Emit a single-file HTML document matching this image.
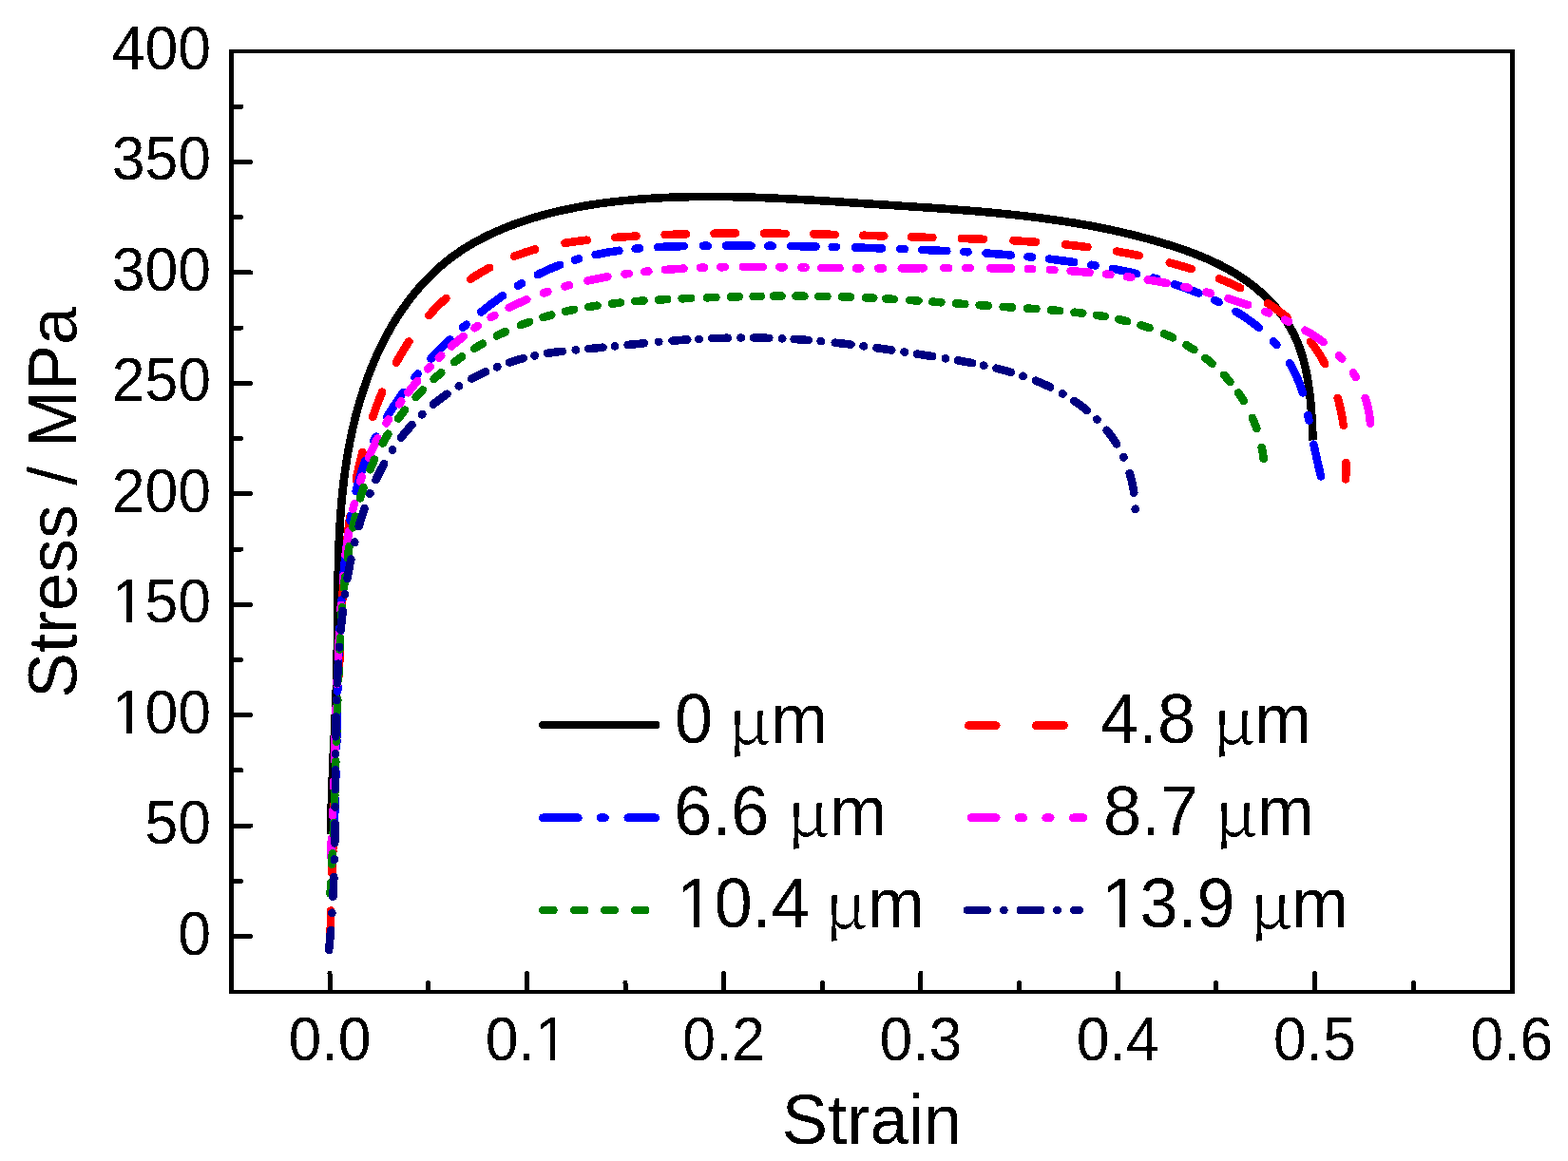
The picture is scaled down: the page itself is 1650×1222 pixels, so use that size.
<!DOCTYPE html><html><head><meta charset="utf-8"><title>Stress-strain curves</title><style>html,body{margin:0;padding:0;background:#fff;}svg{display:block;}text{font-family:"Liberation Sans",Arial,sans-serif;fill:#000;}.mu{font-family:"Noto Serif CJK SC","Liberation Serif",serif;}</style></head><body>
<svg width="1650" height="1222" viewBox="0 0 1650 1222" shape-rendering="crispEdges">
<defs><filter id="bin" x="0" y="0" width="1650" height="1222" filterUnits="userSpaceOnUse" color-interpolation-filters="sRGB"><feComponentTransfer><feFuncA type="discrete" tableValues="0 1"/></feComponentTransfer></filter></defs>
<rect width="1650" height="1222" fill="#fff"/>
<path d="M348.2,878.1L348.3,876.1 348.3,874.0 348.3,872.0 348.3,870.0 348.3,868.0 348.4,866.0 348.4,864.0 348.4,862.0 348.5,860.0 348.5,857.9 348.5,855.9 348.6,853.9 348.6,851.9 348.7,849.9 348.7,847.9 348.8,845.9 348.8,843.9 348.9,841.9 349.0,839.9 349.0,837.9 349.1,835.9 349.2,833.9 349.2,831.9 349.3,829.9 349.4,827.9 349.4,825.9 349.5,823.9 349.6,821.8 349.7,819.8 349.8,817.8 349.8,815.8 349.9,813.8 350.0,811.8 350.1,809.8 350.2,807.8 350.3,805.8 350.4,803.8 350.5,801.8 350.5,799.8 350.6,797.8 350.7,795.8 350.8,793.8 350.9,791.9 351.0,789.9 351.1,787.9 351.2,785.9 351.3,783.9 351.4,781.9 351.5,779.9 351.6,777.9 351.7,775.9 351.8,773.9 351.9,771.9 352.0,769.9 352.1,767.9 352.1,765.9 352.2,763.9 352.3,761.9 352.4,759.9 352.5,757.9 352.6,755.9 352.7,753.9 352.8,751.9 352.9,749.9 353.0,747.9 353.0,745.9 353.1,743.9 353.2,741.9 353.3,739.9 353.4,737.9 353.4,735.9 353.5,733.9 353.6,731.9 353.7,729.9 353.7,727.9 353.8,725.9 353.9,723.9 353.9,721.9 354.0,719.9 354.1,717.9 354.1,715.9 354.2,713.9 354.2,711.9 354.3,709.9 354.3,707.9 354.4,705.9 354.4,703.9 354.5,701.9 354.5,699.9 354.6,697.8 354.6,695.8 354.6,693.8 354.7,691.8 354.7,689.8 354.7,687.8 354.7,685.8 354.8,683.8 354.8,681.8 354.8,679.8 354.9,677.8 354.9,675.8 354.9,673.8 354.9,671.7 354.9,669.7 355.0,667.7 355.0,665.7 355.0,663.7 355.0,661.7 355.0,659.7 355.0,657.7 355.1,655.7 355.1,653.7 355.1,651.6 355.1,649.6 355.1,647.6 355.2,645.6 355.2,643.6 355.2,641.6 355.2,639.6 355.2,637.6 355.2,635.6 355.3,633.5 355.3,631.5 355.3,629.5 355.3,627.5 355.4,625.5 355.4,623.5 355.4,621.5 355.4,619.5 355.5,617.5 355.5,615.5 355.5,613.4 355.6,611.4 355.6,609.4 355.6,607.4 355.7,605.4 355.7,603.4 355.8,601.4 355.8,599.4 355.8,597.4 355.9,595.4 355.9,593.4 356.0,591.4 356.1,589.3 356.1,587.3 356.2,585.3 356.2,583.3 356.3,581.3 356.4,579.3 356.5,577.3 356.5,575.3 356.6,573.3 356.7,571.3 356.8,569.3 356.9,567.3 357.0,565.3 357.1,563.3 357.2,561.3 357.3,559.3 357.4,557.3 357.5,555.3 357.6,553.3 357.7,551.3 357.9,549.3 358.0,547.3 358.1,545.3 358.3,543.3 358.4,541.3 358.6,539.3 358.7,537.3 358.9,535.3 359.0,533.3 359.2,531.4 359.4,529.4 359.5,527.4 359.7,525.4 359.9,523.4 360.1,521.4 360.3,519.4 360.5,517.4 360.7,515.4 360.9,513.5 361.2,511.5 361.4,509.5 361.6,507.5 361.8,505.5 362.1,503.5 362.3,501.6 362.6,499.6 362.9,497.6 363.1,495.6 363.4,493.7 363.7,491.7 364.0,489.7 364.3,487.7 364.6,485.8 364.9,483.8 365.2,481.8 365.5,479.8 365.9,477.9 366.2,475.9 366.6,473.9 366.9,472.0 367.3,470.0 367.6,468.0 368.0,466.1 368.4,464.1 368.8,462.2 369.2,460.2 369.6,458.2 370.0,456.3 370.4,454.3 370.9,452.4 371.3,450.4 371.8,448.5 372.2,446.5 372.7,444.6 373.2,442.6 373.6,440.7 374.1,438.7 374.6,436.8 375.1,434.8 375.7,432.9 376.2,430.9 376.7,429.0 377.3,427.1 377.8,425.1 378.4,423.2 379.0,421.2 379.6,419.3 380.2,417.4 380.8,415.5 381.4,413.5 382.0,411.6 382.6,409.7 383.3,407.8 383.9,405.9 384.6,404.0 385.3,402.0 385.9,400.1 386.6,398.2 387.3,396.3 388.0,394.5 388.8,392.6 389.5,390.7 390.2,388.8 391.0,386.9 391.7,385.1 392.5,383.2 393.3,381.3 394.1,379.5 394.9,377.6 395.7,375.8 396.5,373.9 397.4,372.1 398.2,370.3 399.0,368.4 399.9,366.6 400.8,364.8 401.7,363.0 402.6,361.2 403.5,359.4 404.4,357.6 405.3,355.8 406.3,354.1 407.2,352.3 408.2,350.5 409.1,348.8 410.1,347.0 411.1,345.3 412.1,343.6 413.1,341.8 414.1,340.1 415.2,338.4 416.2,336.7 417.3,335.0 418.4,333.3 419.4,331.7 420.5,330.0 421.6,328.3 422.7,326.7 423.9,325.0 425.0,323.4 426.2,321.8 427.3,320.2 428.5,318.6 429.7,317.0 430.9,315.4 432.1,313.8 433.3,312.3 434.5,310.7 435.8,309.2 437.0,307.6 438.3,306.1 439.6,304.6 440.8,303.1 442.1,301.6 443.5,300.1 444.8,298.7 446.1,297.2 447.5,295.8 448.8,294.3 450.2,292.9 451.6,291.5 453.0,290.1 454.4,288.7 455.8,287.4 457.3,286.0 458.7,284.7 460.2,283.3 461.6,282.0 463.1,280.7 464.6,279.4 466.1,278.1 467.6,276.8 469.2,275.6 470.7,274.4 472.3,273.1 473.9,271.9 475.4,270.7 477.0,269.5 478.7,268.4 480.3,267.2 481.9,266.1 483.6,264.9 485.2,263.8 486.9,262.7 488.6,261.6 490.3,260.6 492.0,259.5 493.7,258.5 495.4,257.4 497.2,256.4 498.9,255.4 500.7,254.4 502.5,253.5 504.3,252.5 506.0,251.6 507.8,250.6 509.7,249.7 511.5,248.8 513.3,247.9 515.1,247.0 517.0,246.2 518.8,245.3 520.7,244.5 522.5,243.6 524.4,242.8 526.3,242.0 528.1,241.2 530.0,240.4 531.9,239.7 533.8,238.9 535.7,238.2 537.6,237.4 539.5,236.7 541.4,236.0 543.4,235.3 545.3,234.6 547.2,234.0 549.1,233.3 551.1,232.6 553.0,232.0 554.9,231.4 556.9,230.7 558.8,230.1 560.7,229.5 562.7,228.9 564.6,228.4 566.5,227.8 568.5,227.2 570.4,226.7 572.4,226.2 574.3,225.6 576.3,225.1 578.2,224.6 580.2,224.1 582.1,223.6 584.1,223.2 586.0,222.7 588.0,222.2 589.9,221.8 591.9,221.3 593.8,220.9 595.8,220.5 597.8,220.1 599.7,219.7 601.7,219.3 603.6,218.9 605.6,218.5 607.6,218.1 609.5,217.8 611.5,217.4 613.5,217.0 615.4,216.7 617.4,216.4 619.4,216.0 621.3,215.7 623.3,215.4 625.3,215.1 627.3,214.8 629.2,214.5 631.2,214.2 633.2,214.0 635.1,213.7 637.1,213.4 639.1,213.2 641.1,212.9 643.1,212.7 645.0,212.4 647.0,212.2 649.0,212.0 651.0,211.8 653.0,211.6 654.9,211.3 656.9,211.1 658.9,210.9 660.9,210.8 662.9,210.6 664.8,210.4 666.8,210.2 668.8,210.0 670.8,209.9 672.8,209.7 674.8,209.6 676.8,209.4 678.7,209.3 680.7,209.1 682.7,209.0 684.7,208.9 686.7,208.7 688.7,208.6 690.7,208.5 692.7,208.4 694.7,208.3 696.7,208.2 698.6,208.1 700.6,208.0 702.6,207.9 704.6,207.8 706.6,207.7 708.6,207.6 710.6,207.6 712.6,207.5 714.6,207.4 716.6,207.4 718.6,207.3 720.6,207.3 722.6,207.2 724.6,207.2 726.6,207.1 728.6,207.1 730.6,207.1 732.6,207.0 734.6,207.0 736.6,207.0 738.6,207.0 740.6,207.0 742.6,207.0 744.6,207.0 746.6,207.0 748.6,207.0 750.6,207.0 752.6,207.0 754.6,207.0 756.6,207.0 758.6,207.0 760.6,207.0 762.6,207.1 764.6,207.1 766.6,207.1 768.6,207.1 770.6,207.2 772.6,207.2 774.6,207.3 776.6,207.3 778.6,207.3 780.6,207.4 782.6,207.4 784.6,207.5 786.6,207.6 788.6,207.6 790.7,207.7 792.7,207.7 794.7,207.8 796.7,207.9 798.7,208.0 800.7,208.0 802.7,208.1 804.7,208.2 806.7,208.3 808.7,208.3 810.7,208.4 812.7,208.5 814.7,208.6 816.7,208.7 818.8,208.8 820.8,208.9 822.8,209.0 824.8,209.1 826.8,209.2 828.8,209.3 830.8,209.4 832.8,209.5 834.8,209.6 836.8,209.7 838.8,209.8 840.8,209.9 842.8,210.0 844.9,210.1 846.9,210.3 848.9,210.4 850.9,210.5 852.9,210.6 854.9,210.7 856.9,210.8 858.9,211.0 860.9,211.1 862.9,211.2 864.9,211.3 866.9,211.5 869.0,211.6 871.0,211.7 873.0,211.8 875.0,212.0 877.0,212.1 879.0,212.2 881.0,212.3 883.0,212.5 885.0,212.6 887.0,212.7 889.0,212.9 891.0,213.0 893.1,213.1 895.1,213.3 897.1,213.4 899.1,213.5 901.1,213.7 903.1,213.8 905.1,213.9 907.1,214.1 909.1,214.2 911.1,214.3 913.1,214.4 915.1,214.6 917.1,214.7 919.1,214.8 921.1,215.0 923.1,215.1 925.1,215.2 927.2,215.4 929.2,215.5 931.2,215.6 933.2,215.7 935.2,215.9 937.2,216.0 939.2,216.1 941.2,216.2 943.2,216.4 945.2,216.5 947.2,216.6 949.2,216.8 951.2,216.9 953.2,217.0 955.2,217.1 957.2,217.3 959.2,217.4 961.2,217.5 963.2,217.7 965.2,217.8 967.2,217.9 969.2,218.1 971.2,218.2 973.2,218.3 975.2,218.4 977.2,218.6 979.2,218.7 981.2,218.9 983.2,219.0 985.2,219.1 987.2,219.3 989.2,219.4 991.2,219.5 993.2,219.7 995.2,219.8 997.2,220.0 999.2,220.1 1001.1,220.3 1003.1,220.4 1005.1,220.6 1007.1,220.7 1009.1,220.9 1011.1,221.0 1013.1,221.2 1015.1,221.3 1017.1,221.5 1019.1,221.6 1021.1,221.8 1023.1,222.0 1025.1,222.1 1027.1,222.3 1029.0,222.5 1031.0,222.6 1033.0,222.8 1035.0,223.0 1037.0,223.2 1039.0,223.3 1041.0,223.5 1043.0,223.7 1045.0,223.9 1047.0,224.1 1048.9,224.3 1050.9,224.5 1052.9,224.7 1054.9,224.9 1056.9,225.1 1058.9,225.3 1060.9,225.5 1062.8,225.7 1064.8,225.9 1066.8,226.1 1068.8,226.3 1070.8,226.5 1072.8,226.8 1074.7,227.0 1076.7,227.2 1078.7,227.4 1080.7,227.7 1082.7,227.9 1084.7,228.1 1086.6,228.4 1088.6,228.6 1090.6,228.9 1092.6,229.1 1094.5,229.4 1096.5,229.7 1098.5,229.9 1100.5,230.2 1102.5,230.5 1104.4,230.7 1106.4,231.0 1108.4,231.3 1110.4,231.6 1112.3,231.9 1114.3,232.2 1116.3,232.4 1118.3,232.7 1120.2,233.1 1122.2,233.4 1124.2,233.7 1126.2,234.0 1128.1,234.3 1130.1,234.6 1132.1,235.0 1134.0,235.3 1136.0,235.6 1138.0,236.0 1139.9,236.3 1141.9,236.7 1143.9,237.0 1145.9,237.4 1147.8,237.7 1149.8,238.1 1151.8,238.5 1153.7,238.9 1155.7,239.3 1157.7,239.6 1159.6,240.0 1161.6,240.4 1163.5,240.8 1165.5,241.2 1167.5,241.6 1169.4,242.1 1171.4,242.5 1173.4,242.9 1175.3,243.3 1177.3,243.8 1179.2,244.2 1181.2,244.7 1183.2,245.1 1185.1,245.6 1187.1,246.1 1189.0,246.5 1191.0,247.0 1192.9,247.5 1194.9,248.0 1196.8,248.5 1198.8,249.0 1200.8,249.5 1202.7,250.0 1204.7,250.5 1206.6,251.0 1208.6,251.5 1210.5,252.1 1212.5,252.6 1214.4,253.2 1216.4,253.7 1218.3,254.3 1220.3,254.8 1222.2,255.4 1224.2,256.0 1226.1,256.6 1228.0,257.2 1230.0,257.8 1231.9,258.4 1233.9,259.0 1235.8,259.6 1237.7,260.2 1239.7,260.9 1241.6,261.5 1243.5,262.2 1245.4,262.8 1247.3,263.5 1249.2,264.2 1251.1,264.9 1253.0,265.6 1254.9,266.3 1256.8,267.0 1258.7,267.8 1260.6,268.5 1262.5,269.3 1264.3,270.1 1266.2,270.8 1268.1,271.6 1269.9,272.4 1271.8,273.2 1273.6,274.1 1275.4,274.9 1277.3,275.8 1279.1,276.6 1280.9,277.5 1282.7,278.4 1284.5,279.3 1286.2,280.2 1288.0,281.2 1289.8,282.1 1291.5,283.1 1293.3,284.0 1295.0,285.0 1296.7,286.0 1298.5,287.1 1300.2,288.1 1301.9,289.1 1303.6,290.2 1305.2,291.3 1306.9,292.4 1308.5,293.5 1310.2,294.6 1311.8,295.8 1313.4,297.0 1315.0,298.1 1316.6,299.3 1318.2,300.5 1319.8,301.8 1321.3,303.0 1322.9,304.3 1324.4,305.6 1325.9,306.9 1327.4,308.2 1328.9,309.5 1330.3,310.9 1331.8,312.3 1333.2,313.6 1334.6,315.0 1336.0,316.5 1337.4,317.9 1338.8,319.3 1340.1,320.8 1341.4,322.3 1342.7,323.8 1344.0,325.3 1345.2,326.8 1346.5,328.4 1347.7,329.9 1348.9,331.5 1350.1,333.1 1351.2,334.7 1352.3,336.3 1353.4,338.0 1354.5,339.6 1355.6,341.3 1356.6,343.0 1357.6,344.7 1358.6,346.4 1359.5,348.1 1360.5,349.9 1361.4,351.6 1362.2,353.4 1363.1,355.2 1363.9,357.0 1364.7,358.8 1365.4,360.6 1366.2,362.5 1366.9,364.3 1367.6,366.2 1368.2,368.1 1368.9,370.0 1369.5,371.9 1370.1,373.8 1370.7,375.7 1371.2,377.6 1371.8,379.5 1372.3,381.5 1372.8,383.4 1373.2,385.4 1373.7,387.4 1374.1,389.3 1374.5,391.3 1374.9,393.3 1375.3,395.3 1375.7,397.3 1376.0,399.3 1376.4,401.3 1376.7,403.3 1377.0,405.3 1377.3,407.4 1377.6,409.4 1377.8,411.4 1378.1,413.4 1378.3,415.4 1378.6,417.5 1378.8,419.5 1379.0,421.5 1379.2,423.6 1379.4,425.6 1379.5,427.6 1379.7,429.6 1379.9,431.7 1380.0,433.7 1380.2,435.7 1380.3,437.7 1380.4,439.7 1380.6,441.7 1380.7,443.7 1380.8,445.7 1380.9,447.7 1381.0,449.7 1381.1,451.7 1381.2,453.7 1381.3,455.6 1381.4,457.6 1381.5,459.5 1381.6,461.5 1381.7,463.4" fill="none" stroke="#000" stroke-width="8.6" stroke-linejoin="round" stroke-linecap="butt"/>
<path d="M347.4,988.2L347.5,986.0L347.6,983.5L347.7,981.0L347.7,978.5L347.8,976.0L347.9,973.5L348.0,971.0L348.0,968.5L348.1,966.0L348.2,963.5L348.2,961.0L348.3,958.5L348.3,958.4M349.5,919.0L349.6,916.6L349.6,914.6L349.7,912.6L349.8,910.6L349.8,908.6L349.9,906.6L349.9,904.6L350.0,902.6L350.1,900.6L350.1,898.6L350.2,896.6L350.2,894.6L350.3,892.6L350.4,890.6L350.4,889.1M351.7,849.7L351.7,847.6L351.8,845.6L351.8,843.6L351.9,841.6L352.0,839.6L352.0,837.6L352.1,835.6L352.2,833.6L352.2,831.6L352.3,829.5L352.4,827.5L352.4,825.5L352.5,823.5L352.6,821.5L352.6,819.8M354.0,780.4L354.1,778.0L354.1,776.0L354.2,774.0L354.3,772.0L354.4,770.0L354.4,768.0L354.5,766.0L354.6,764.0L354.6,762.0L354.7,760.0L354.8,758.0L354.9,756.0L354.9,754.0L355.0,752.0L355.1,750.6M356.6,711.2L356.7,709.0L356.8,707.0L356.9,705.0L356.9,703.0L357.0,701.0L357.1,699.0L357.2,697.0L357.3,695.0L357.3,693.0L357.4,691.0L357.5,689.0L357.6,687.0L357.7,685.0L357.8,683.0L357.8,681.4M359.7,642.0L359.8,639.6L359.9,637.1L360.1,634.6L360.2,632.1L360.4,629.6L360.5,627.1L360.7,624.6L360.8,622.1L361.0,619.6L361.1,617.1L361.3,614.6L361.5,612.2M364.8,573.0L365.0,570.9L365.3,568.4L365.6,566.0L365.9,563.5L366.1,561.0L366.4,558.5L366.7,556.1L367.0,553.6L367.4,551.1L367.7,548.6L368.0,546.2L368.4,543.7L368.4,543.5M374.8,505.0L375.2,502.9L375.6,500.9L376.0,498.9L376.5,497.0L376.9,495.0L377.3,493.1L377.7,491.1L378.2,489.1L378.6,487.2L379.1,485.2L379.5,483.3L380.0,481.3L380.5,479.4L381.0,477.4L381.3,476.1M392.3,438.7L393.1,436.3L393.8,434.4L394.5,432.5L395.1,430.6L395.8,428.7L396.5,426.8L397.2,424.9L398.0,423.0L398.7,421.2L399.4,419.3L400.2,417.4L400.9,415.5L401.7,413.7L402.1,412.7M416.9,381.8L418.0,379.8L419.2,377.6L420.4,375.4L421.7,373.3L423.0,371.1L424.2,369.0L425.5,366.9L426.9,364.8L428.2,362.7L429.6,360.6L430.4,359.4M451.3,332.1L452.8,330.4L454.5,328.6L456.2,326.8L457.9,325.0L459.7,323.2L461.4,321.5L463.2,319.7L465.0,318.0L466.8,316.3L468.6,314.6L469.3,314.0M495.3,293.8L497.1,292.6L498.7,291.5L500.4,290.4L502.1,289.3L503.8,288.3L505.6,287.2L507.3,286.2L509.0,285.2L510.8,284.2L512.5,283.2L514.3,282.3L515.2,281.8M541.3,269.7L543.4,268.9L545.3,268.2L547.2,267.5L549.1,266.9L550.9,266.2L552.8,265.6L555.2,264.8L557.6,264.1L560.0,263.4L562.4,262.7L563.2,262.5M594.5,255.8L596.6,255.5L598.6,255.2L600.6,254.9L602.5,254.6L604.5,254.3L606.5,254.1L608.5,253.8L610.5,253.6L612.5,253.3L614.5,253.1L616.5,252.8L617.7,252.7M647.2,250.0L649.4,249.8L651.4,249.7L653.4,249.6L655.4,249.4L657.4,249.3L659.4,249.2L661.4,249.0L663.4,248.9L665.4,248.8L667.4,248.7L669.4,248.5L669.7,248.5M699.6,247.1L701.9,247.0L703.9,246.9L705.9,246.8L707.9,246.8L709.9,246.7L711.9,246.6L713.9,246.6L715.9,246.5L717.9,246.4L720.0,246.4L722.0,246.3L722.0,246.3M751.4,245.7L753.5,245.7L755.5,245.7L758.0,245.6L760.5,245.6L763.0,245.6L765.5,245.6L768.0,245.6L770.5,245.5L772.9,245.5L773.9,245.5M804.0,245.6L806.4,245.6L808.9,245.6L811.4,245.7L813.9,245.7L816.4,245.7L818.9,245.7L821.4,245.8L823.9,245.8L826.4,245.8L826.6,245.8M856.2,246.4L858.4,246.4L860.9,246.5L863.4,246.5L865.9,246.6L868.4,246.7L870.9,246.7L873.4,246.8L875.9,246.8L878.4,246.9L878.6,246.9M908.2,247.7L910.4,247.8L912.9,247.9L915.4,248.0L917.9,248.0L920.4,248.1L922.9,248.2L925.4,248.3L927.9,248.3L930.3,248.4M959.0,249.3L961.4,249.4L963.4,249.5L965.4,249.5L967.4,249.6L969.4,249.7L971.4,249.7L973.4,249.8L975.4,249.8L977.4,249.9L979.4,250.0L981.4,250.0L981.4,250.0M1011.8,251.0L1013.8,251.1L1016.3,251.1L1018.8,251.2L1021.3,251.3L1023.8,251.4L1026.3,251.5L1028.8,251.6L1031.3,251.7L1033.8,251.8L1035.2,251.8M1066.4,253.3L1068.7,253.5L1071.2,253.6L1073.7,253.7L1076.2,253.9L1078.7,254.1L1081.2,254.2L1083.7,254.4L1086.2,254.6L1088.7,254.7L1090.0,254.8M1121.1,257.5L1123.5,257.7L1126.0,258.0L1128.4,258.2L1130.9,258.5L1133.4,258.8L1135.9,259.1L1138.4,259.4L1140.8,259.7L1143.3,260.0L1144.5,260.1M1175.2,264.6L1177.4,265.0L1179.4,265.4L1181.4,265.7L1183.3,266.1L1185.3,266.4L1187.3,266.8L1189.2,267.2L1191.2,267.5L1193.2,267.9L1195.1,268.3L1197.1,268.7L1198.9,269.1M1230.7,276.5L1232.9,277.1L1234.9,277.6L1236.8,278.2L1238.8,278.7L1240.7,279.3L1242.7,279.8L1244.6,280.4L1246.6,281.0L1248.5,281.5L1250.5,282.1L1252.4,282.7L1253.8,283.2M1283.0,293.4L1285.0,294.2L1286.9,295.0L1288.8,295.8L1290.7,296.5L1292.5,297.3L1294.4,298.1L1296.2,299.0L1298.1,299.8L1299.9,300.6L1301.7,301.5L1303.6,302.3L1305.1,303.1M1334.0,319.2L1335.7,320.3L1337.7,321.6L1339.7,323.0L1341.7,324.4L1343.7,325.9L1345.7,327.3L1347.6,328.8L1349.6,330.3L1351.5,331.8L1353.4,333.3L1354.6,334.4M1379.1,359.7L1380.5,361.5L1382.0,363.4L1383.4,365.4L1384.8,367.4L1386.1,369.4L1387.5,371.4L1388.8,373.5L1390.0,375.6L1391.3,377.7L1392.5,379.9L1393.6,382.1L1394.1,383.1M1407.7,418.8L1408.4,421.1L1408.9,423.1L1409.4,425.1L1409.8,427.1L1410.3,429.2L1410.7,431.2L1411.2,433.2L1411.6,435.3L1412.0,437.3L1412.3,439.4L1412.7,441.4L1413.0,443.5L1413.3,445.5L1413.7,447.6L1413.7,447.8M1416.5,487.0L1416.5,489.3L1416.5,491.7L1416.4,494.0L1416.4,496.4L1416.3,498.7L1416.2,501.1L1416.1,503.4L1416.0,504.3" fill="none" stroke="#ff0000" stroke-width="8.6" stroke-linecap="round" stroke-linejoin="round"/>
<path d="M351.7,865.9L351.8,863.4L351.9,861.0L352.1,858.5L352.2,856.0L352.3,853.5L352.4,851.0L352.4,848.6L352.5,846.1L352.6,843.6L352.7,841.3M353.4,818.0L353.5,815.7L353.5,813.2L353.5,812.2M354.1,786.2L354.1,783.7L354.2,781.7L354.2,779.7L354.2,777.7L354.3,775.7L354.3,773.7L354.4,771.7L354.4,769.6L354.4,767.6L354.5,765.6L354.5,763.6L354.5,761.6L354.6,759.6L354.6,757.6L354.6,755.6L354.7,753.6L354.7,751.6L354.7,751.0M355.2,727.7L355.3,725.5L355.3,723.5L355.3,721.8M356.1,695.8L356.1,693.4L356.2,691.4L356.3,689.4L356.4,687.4L356.4,685.4L356.5,683.4L356.6,681.4L356.7,679.4L356.7,677.4L356.8,675.4L356.9,673.4L357.0,671.4L357.1,669.4L357.2,667.4L357.3,665.4L357.4,663.3L357.5,661.3L357.5,660.7M358.9,637.4L359.0,635.4L359.1,633.4L359.3,631.6M361.4,605.7L361.6,603.5L361.8,601.0L362.1,598.5L362.3,596.0L362.6,593.6L362.8,591.1L363.1,588.6L363.4,586.1L363.7,583.7L364.0,581.2L364.3,578.7L364.6,576.2L364.9,573.8L365.2,571.3L365.2,570.9M368.6,548.0L368.9,545.7L369.4,543.2L369.5,542.3M374.7,517.2L375.2,515.0L375.8,512.6L376.4,510.2L377.1,507.8L377.8,505.4L378.4,503.0L379.2,500.6L379.9,498.3L380.7,495.9L381.4,493.5L382.3,491.2L383.1,488.8L383.8,486.9L384.5,485.1L384.6,484.7M393.3,464.5L394.3,462.4L395.2,460.6L395.8,459.6M407.3,438.7L408.5,436.8L409.6,435.0L410.7,433.3L411.7,431.6L412.8,429.9L413.9,428.2L415.0,426.5L416.1,424.9L417.3,423.2L418.4,421.5L419.5,419.9L420.7,418.3L422.1,416.2L423.6,414.2L424.5,412.9M436.5,397.3L438.1,395.4L439.6,393.5M453.5,377.6L455.1,375.9L456.8,374.1L458.5,372.3L460.2,370.5L461.9,368.8L463.6,367.0L465.4,365.3L467.1,363.5L468.8,361.8L470.6,360.1L472.4,358.4L473.4,357.4M487.1,344.7L488.9,343.2L490.4,341.8L490.6,341.6M506.3,328.4L507.9,327.2L509.4,325.9L511.1,324.6L512.7,323.4L514.3,322.1L515.9,320.9L517.5,319.6L519.2,318.4L520.8,317.2L522.5,316.0L524.1,314.8L525.8,313.6L527.4,312.4L529.0,311.3M545.0,300.8L547.1,299.5L548.8,298.5L548.9,298.4M565.8,289.1L567.9,288.1L569.7,287.2L571.5,286.4L573.3,285.5L575.6,284.5L577.9,283.5L580.1,282.5L582.4,281.5L584.7,280.6L587.1,279.7L589.2,278.9M605.2,273.6L607.2,273.0L609.1,272.4M626.6,268.2L628.7,267.7L631.1,267.2L633.6,266.7L636.0,266.3L638.4,265.9L640.8,265.4L643.3,265.0L645.7,264.7L648.2,264.3L650.6,263.9L651.4,263.8M668.7,261.8L670.9,261.6L673.0,261.4M692.0,260.1L694.3,260.0L696.3,259.9L698.3,259.8L700.3,259.7L702.3,259.6L704.3,259.6L706.3,259.5L708.3,259.4L710.3,259.4L712.3,259.3L714.3,259.2L716.3,259.2L718.3,259.1L719.9,259.1M739.9,258.8L742.0,258.8L744.0,258.8L744.6,258.8M764.0,258.7L766.0,258.6L768.0,258.6L770.0,258.6L772.0,258.6L774.0,258.6L776.0,258.6L778.0,258.6L780.0,258.6L782.0,258.6L784.0,258.6L786.0,258.6L788.0,258.7L790.0,258.7L790.5,258.7M808.3,258.8L810.5,258.8L812.7,258.8M832.3,259.0L834.5,259.1L837.0,259.1L839.5,259.1L842.0,259.2L844.5,259.2L847.0,259.3L849.5,259.3L852.0,259.4L854.5,259.4L857.0,259.5L858.5,259.5M875.7,259.9L877.9,259.9L880.1,260.0M899.9,260.5L902.3,260.6L904.8,260.6L907.3,260.7L909.8,260.8L912.3,260.9L914.8,260.9L917.3,261.0L919.8,261.1L922.3,261.2L924.8,261.3L927.3,261.3L928.0,261.4M947.4,262.0L949.8,262.1L951.8,262.2L951.9,262.2M970.4,262.9L972.8,263.0L974.8,263.1L976.8,263.2L978.8,263.3L980.8,263.4L982.9,263.5L984.9,263.6L986.9,263.7L988.9,263.8L990.9,263.9L992.9,263.9L994.9,264.0L996.3,264.1M1014.2,265.1L1016.4,265.2L1018.4,265.3L1018.6,265.3M1037.6,266.5L1039.9,266.7L1041.9,266.8L1043.9,267.0L1045.9,267.1L1047.9,267.3L1049.9,267.4L1051.9,267.6L1053.9,267.7L1055.9,267.9L1057.9,268.1L1059.9,268.2L1061.9,268.4L1063.8,268.6M1081.6,270.2L1083.8,270.4L1085.9,270.6M1104.2,272.6L1106.7,272.9L1109.1,273.2L1111.6,273.5L1114.1,273.8L1116.5,274.2L1119.0,274.5L1121.5,274.8L1124.0,275.1L1126.4,275.5L1128.9,275.8L1130.2,276.0M1148.3,278.8L1150.5,279.1L1152.6,279.5M1170.9,282.8L1173.0,283.2L1175.4,283.7L1177.9,284.2L1180.3,284.7L1182.7,285.2L1185.2,285.7L1187.6,286.2L1190.0,286.7L1192.4,287.3L1194.8,287.9L1196.2,288.2M1213.4,292.6L1215.6,293.1L1217.7,293.7M1236.2,299.4L1238.1,300.0L1240.0,300.7L1241.9,301.3L1243.8,302.0L1245.7,302.7L1247.6,303.3L1249.5,304.0L1251.4,304.7L1253.3,305.4L1255.2,306.2L1257.1,306.9L1259.0,307.6L1260.9,308.4L1261.5,308.6M1278.4,316.0L1280.5,317.1L1282.3,318.0L1282.5,318.1M1300.5,327.9L1302.3,328.9L1304.0,330.0L1305.7,331.1L1307.4,332.2L1309.0,333.3L1310.7,334.4L1312.3,335.5L1314.4,337.0L1316.4,338.4L1318.4,339.9L1320.4,341.4L1322.3,343.0L1324.3,344.5L1324.6,344.8M1339.9,359.3L1341.3,360.9L1343.0,362.8L1343.4,363.2M1357.0,382.2L1358.1,384.1L1359.3,386.2L1360.5,388.4L1361.6,390.6L1362.7,392.8L1363.8,395.1L1364.8,397.3L1365.8,399.6L1366.8,401.9L1367.7,404.2L1368.6,406.6L1369.2,408.5L1369.9,410.4L1370.5,412.3L1370.8,413.4M1376.3,436.9L1376.7,438.9L1377.1,440.8L1377.5,442.7M1382.4,467.7L1382.9,469.9L1383.4,472.4L1383.9,474.8L1384.4,477.3L1385.0,479.7L1385.5,482.1L1386.0,484.6L1386.6,487.0L1387.1,489.4L1387.7,491.9L1388.3,494.3L1388.8,496.7L1389.4,499.1L1390.0,501.4" fill="none" stroke="#0000ff" stroke-width="8.6" stroke-linecap="round" stroke-linejoin="round"/>
<path d="M348.0,901.1L348.1,899.1L348.2,897.1L348.3,895.1L348.4,893.1L348.5,891.0L348.6,889.0L348.7,887.0L348.8,885.0L348.9,883.0L348.9,882.5M349.9,858.8L350.0,856.4L350.0,854.4L350.1,853.0M351.0,828.2L351.1,825.8L351.1,823.3L351.2,822.4M351.9,800.2L352.0,797.9L352.0,795.4L352.1,792.9L352.2,790.4L352.3,787.9L352.4,785.4L352.4,782.9L352.5,780.4L352.6,777.9L352.7,775.5L352.7,774.4M353.5,750.7L353.6,748.6L353.7,746.1L353.7,744.8M354.6,720.1L354.7,717.7L354.8,715.2L354.9,714.2M355.8,692.1L355.9,689.8L356.0,687.3L356.2,684.8L356.3,682.8L356.4,680.8L356.5,678.8L356.6,676.8L356.7,674.8L356.8,672.8L356.9,670.8L357.0,668.8L357.1,666.8L357.1,666.3M358.5,642.6L358.7,640.2L358.8,638.2L358.9,636.8M360.8,612.1L361.0,610.0L361.2,608.0L361.3,606.3M363.6,584.4L363.9,582.0L364.1,580.0L364.4,578.0L364.7,576.0L364.9,574.0L365.2,572.0L365.5,570.0L365.8,568.1L366.1,566.1L366.4,564.1L366.7,562.1L367.0,560.1L367.2,559.0M371.5,536.0L372.0,533.7L372.6,531.3L372.8,530.3M379.1,507.0L379.7,505.0L380.4,502.7L380.8,501.6M388.0,481.7L388.9,479.5L389.9,477.3L390.9,475.0L391.9,472.8L392.9,470.5L394.0,468.3L395.0,466.0L396.1,463.8L397.3,461.6L397.4,461.4M406.4,445.4L407.6,443.4L408.7,441.8L408.8,441.5M420.0,425.4L421.4,423.5L422.3,422.3M429.3,413.3L430.6,411.6L431.8,410.0L433.1,408.4L434.3,406.9L435.6,405.3L437.2,403.4L438.8,401.5L439.2,401.0M450.3,388.4L451.7,386.9L452.7,385.8M461.8,376.6L463.3,375.2L464.3,374.2M475.0,364.5L476.7,363.0L478.2,361.7L479.8,360.4L481.3,359.1L482.9,357.9L484.5,356.6L486.0,355.3L487.6,354.1L487.7,354.1M499.5,345.3L501.4,344.0L502.6,343.2M516.6,334.2L518.7,333.0L520.3,332.1M535.6,323.8L537.6,322.9L539.8,321.8L542.0,320.7L544.3,319.7L546.5,318.7L548.8,317.7L551.1,316.7L553.4,315.7L554.3,315.3M572.0,308.5L574.2,307.8L576.3,307.0M594.4,301.5L596.5,300.9L598.9,300.2L599.1,300.2M618.3,295.5L620.3,295.1L622.7,294.5L625.2,294.0L627.1,293.6L629.1,293.3L631.0,292.9L633.0,292.5L635.0,292.1L637.0,291.8L638.9,291.4L639.4,291.4M657.5,288.5L659.7,288.2L661.7,287.9M678.2,286.0L680.6,285.7L682.4,285.5M699.8,283.9L702.0,283.8L704.0,283.6L706.0,283.5L708.0,283.3L710.5,283.2L713.0,283.0L715.5,282.9L718.0,282.7L719.5,282.6M736.8,281.8L739.0,281.7L741.0,281.7M758.4,281.2L760.5,281.2L763.0,281.1L763.0,281.1M781.9,281.0L784.0,280.9L786.0,280.9L788.0,280.9L790.0,280.9L792.0,280.9L794.0,280.9L796.0,281.0L798.0,281.0L800.0,281.0L802.0,281.0L802.6,281.0M820.3,281.2L822.5,281.2L824.5,281.2L824.7,281.2M843.3,281.5L845.5,281.5L847.5,281.6L847.7,281.6M864.3,281.9L866.5,281.9L868.5,281.9L870.5,282.0L872.5,282.0L874.5,282.0L876.5,282.1L878.5,282.1L880.6,282.1L882.6,282.1L883.5,282.2M900.9,282.3L903.1,282.4L905.1,282.4L905.3,282.4M924.3,282.4L926.6,282.4L928.6,282.4L929.2,282.4M948.7,282.4L951.1,282.3L953.6,282.3L956.1,282.3L958.6,282.3L961.1,282.3L963.6,282.3L966.1,282.3L968.6,282.2L971.1,282.2L971.8,282.2M993.4,282.1L995.6,282.1L998.1,282.1L998.2,282.1M1016.0,282.0L1018.1,282.0L1020.6,282.1L1020.9,282.1M1042.1,282.2L1044.5,282.2L1047.0,282.2L1049.5,282.3L1052.0,282.3L1054.5,282.3L1057.0,282.4L1059.5,282.4L1062.0,282.5L1064.1,282.5M1081.8,283.0L1084.0,283.1L1086.2,283.1M1104.8,283.9L1107.0,284.0L1108.9,284.1L1109.3,284.2M1126.7,285.2L1128.9,285.4L1130.9,285.5L1132.9,285.7L1134.9,285.8L1136.9,286.0L1138.9,286.2L1140.9,286.3L1142.9,286.5L1144.9,286.7L1146.5,286.8M1164.1,288.5L1166.3,288.8L1168.3,289.0L1168.4,289.0M1186.0,291.2L1188.1,291.5L1190.1,291.8L1190.4,291.8M1207.7,294.5L1209.9,294.8L1211.9,295.2L1213.8,295.5L1215.8,295.8L1217.8,296.2L1219.7,296.5L1221.7,296.9L1223.7,297.3L1225.6,297.6L1227.6,298.0L1227.9,298.1M1246.4,301.9L1248.6,302.5L1250.6,302.9L1250.8,303.0M1269.3,307.5L1271.5,308.1L1273.4,308.6L1273.9,308.8M1292.4,314.2L1294.6,314.8L1296.5,315.5L1298.4,316.1L1300.3,316.7L1302.2,317.3L1304.1,317.9L1306.0,318.6L1307.9,319.2L1309.8,319.9L1311.7,320.6L1313.1,321.0M1331.2,327.9L1333.5,328.8L1335.3,329.5L1335.4,329.5M1351.9,336.7L1353.9,337.6L1355.7,338.5L1356.2,338.7M1373.4,347.7L1375.2,348.8L1377.4,350.0L1379.5,351.3L1381.6,352.6L1383.7,354.0L1385.7,355.3L1387.8,356.7L1389.8,358.1L1391.8,359.6L1392.6,360.2M1408.9,374.1L1410.4,375.7L1412.1,377.5L1412.3,377.6M1423.9,392.4L1425.1,394.3L1426.4,396.3L1426.8,396.9M1436.7,418.9L1437.4,421.2L1438.0,423.2L1438.6,425.3L1439.1,427.3L1439.6,429.5L1440.0,431.6L1440.4,433.7L1440.8,435.9L1441.2,438.2L1441.5,440.4L1441.7,442.7L1442.0,445.0L1442.1,445.9" fill="none" stroke="#ff00ff" stroke-width="8.6" stroke-linecap="round" stroke-linejoin="round"/>
<path d="M347.6,940.6L347.7,938.4L347.9,936.3L348.0,934.3L348.1,932.2L348.2,930.2L348.3,929.1M349.3,909.9L349.4,907.7L349.5,905.7L349.6,903.7L349.7,901.7L349.8,899.6L349.9,898.2M350.7,877.8L350.8,875.5L350.9,873.5L351.0,871.5L351.1,869.5L351.2,867.0L351.2,865.8M351.9,845.5L352.0,843.1L352.1,840.6L352.2,838.2L352.2,835.7L352.3,833.4M352.9,813.1L353.0,811.0L353.1,808.5L353.1,806.1L353.2,803.6L353.3,801.1L353.3,801.0M353.9,780.6L354.0,778.4L354.0,776.0L354.1,773.5L354.2,771.0L354.3,768.6L354.3,768.6M354.9,748.2L355.0,745.9L355.1,743.4L355.1,740.9L355.2,738.4L355.3,736.2M356.1,715.8L356.1,713.6L356.2,711.1L356.3,708.6L356.4,706.6L356.5,704.6L356.5,703.8M357.5,683.5L357.6,681.0L357.7,679.0L357.8,676.9L357.9,674.9L358.0,672.9L358.1,671.4M359.3,651.1L359.4,649.0L359.6,647.0L359.7,644.9L359.9,642.9L360.0,640.9L360.2,639.1M361.9,618.9L362.2,616.4L362.4,614.4L362.6,612.4L362.8,610.3L363.0,608.3L363.2,606.9M365.8,586.9L366.1,584.6L366.4,582.6L366.7,580.6L367.0,578.5L367.3,576.5L367.6,575.0M371.3,555.3L371.7,553.2L372.2,551.3L372.6,549.3L373.0,547.3L373.5,545.4L373.9,543.7M379.0,524.5L379.6,522.3L380.4,519.9L381.1,517.5L381.9,515.2L382.5,513.2M389.5,494.3L390.4,492.0L391.4,489.8L392.4,487.5L393.3,485.3L394.1,483.6M402.7,466.6L403.7,464.7L404.9,462.6L406.2,460.4L407.4,458.3L408.4,456.7M419.2,440.5L420.6,438.7L422.0,436.7L423.5,434.7L425.1,432.8L426.0,431.6M437.7,417.9L439.2,416.2L440.9,414.4L442.6,412.6L444.4,410.8L444.7,410.4M456.7,398.9L458.4,397.3L459.9,396.0L461.4,394.7L462.9,393.4L464.3,392.2M478.1,381.2L479.8,379.9L481.4,378.8L483.1,377.6L484.7,376.4L486.1,375.4M499.2,366.8L501.1,365.6L502.8,364.6L504.5,363.6L506.2,362.5L507.7,361.7M522.9,353.5L524.8,352.5L526.6,351.6L528.4,350.8L530.2,349.9L532.0,349.1L532.1,349.0M548.0,342.2L549.9,341.4L552.3,340.6L554.6,339.7L556.9,338.8L557.0,338.8M571.5,334.0L573.5,333.5L575.9,332.8L578.3,332.1L580.3,331.5M595.1,327.8L597.1,327.4L599.5,326.9L601.9,326.3L604.1,325.9M619.4,323.1L621.6,322.7L624.0,322.3L626.5,322.0L628.5,321.7L628.6,321.7M643.8,319.7L645.9,319.4L647.9,319.2L649.8,319.0L651.8,318.8L652.9,318.6M668.3,317.2L670.4,317.1L672.4,316.9L674.4,316.7L676.4,316.6L677.5,316.5M693.0,315.5L695.0,315.4L697.0,315.3L699.1,315.2L701.1,315.1L702.2,315.0M717.6,314.3L719.7,314.2L721.7,314.1L723.8,314.0L725.8,314.0L727.2,313.9M743.9,313.3L746.4,313.2L748.4,313.1L750.4,313.0L752.4,313.0L753.5,312.9M768.9,312.5L771.0,312.4L773.0,312.4L775.0,312.3L777.0,312.3L777.9,312.2M792.6,311.9L795.0,311.9L797.0,311.8L799.0,311.8L800.9,311.8M814.1,311.6L816.5,311.6L819.0,311.6L821.5,311.6L822.5,311.6M837.5,311.6L839.9,311.6L842.4,311.6L844.9,311.6L846.4,311.6M861.3,311.8L863.8,311.8L866.3,311.9L868.8,311.9L870.4,312.0M886.0,312.4L888.1,312.4L890.6,312.5L893.1,312.6L895.2,312.7M910.8,313.3L912.9,313.4L915.4,313.6L917.9,313.7L919.3,313.7M932.3,314.4L934.7,314.6L937.2,314.7L939.6,314.9L941.0,315.0M957.1,316.0L959.5,316.1L961.9,316.3L964.4,316.4L966.4,316.6M981.3,317.6L983.8,317.8L986.3,318.0L988.7,318.1L990.4,318.3M1006.0,319.4L1008.2,319.5L1010.2,319.7L1012.2,319.8L1014.2,320.0L1015.3,320.1M1030.6,321.2L1032.7,321.3L1034.7,321.5L1036.7,321.6L1038.7,321.7L1039.9,321.8M1055.7,322.9L1057.9,323.1L1059.9,323.2L1061.9,323.3L1064.0,323.5L1065.2,323.5M1081.1,324.6L1083.3,324.7L1085.3,324.8L1087.3,325.0L1089.4,325.1L1090.4,325.2M1106.0,326.4L1108.2,326.5L1110.2,326.7L1112.2,326.9L1114.2,327.1L1115.2,327.1M1130.4,328.7L1132.4,328.9L1134.4,329.1L1136.4,329.4L1138.4,329.6L1139.3,329.7M1153.9,331.8L1156.3,332.1L1158.3,332.5L1160.8,332.9L1162.7,333.2M1177.4,336.1L1179.8,336.7L1182.2,337.3L1184.6,337.8L1186.1,338.2M1200.6,342.3L1202.6,342.9L1204.9,343.6L1207.2,344.4L1209.5,345.2M1225.0,351.2L1226.8,352.0L1229.0,353.0L1231.3,354.1L1233.5,355.1L1233.9,355.3M1248.5,363.2L1250.2,364.3L1252.3,365.6L1254.4,366.9L1256.3,368.2M1268.3,376.8L1270.2,378.3L1272.1,379.9L1274.0,381.5L1275.6,382.8M1288.0,394.8L1289.6,396.4L1291.2,398.3L1292.8,400.1L1294.3,401.9M1303.2,413.5L1304.6,415.4L1305.9,417.5L1307.3,419.6L1308.6,421.8L1308.7,422.0M1317.9,439.8L1318.9,442.0L1319.7,443.9L1320.4,445.8L1321.1,447.8L1321.9,449.7L1322.3,451.0M1327.7,470.9L1328.2,473.3L1328.6,475.4L1329.0,477.6L1329.3,479.8L1329.6,482.0L1329.7,482.8" fill="none" stroke="#008000" stroke-width="8.6" stroke-linecap="round" stroke-linejoin="round"/>
<path d="M346.1,1000.1L346.4,997.7L346.6,995.7L346.8,993.7L347.0,991.7L347.2,989.6L347.3,987.6L347.5,985.6L347.7,983.6L347.9,981.6L348.0,979.5L348.1,979.0M349.4,961.2L349.4,960.7M350.4,943.8L350.5,941.8L350.6,939.8L350.7,937.8L350.8,935.8L350.9,933.8L350.9,931.8L351.0,929.8L351.1,927.8L351.2,925.8L351.3,923.8L351.3,923.0M351.8,905.0L351.9,904.5M352.2,887.4L352.3,885.3L352.3,882.8L352.3,880.3L352.4,877.8L352.4,875.3L352.4,872.8L352.5,870.3L352.5,867.8L352.5,866.9M352.6,849.6L352.7,849.1M352.8,831.1L352.8,828.9L352.8,826.4L352.8,823.9L352.8,821.4L352.8,819.0L352.8,816.5L352.8,814.0L352.9,811.5L352.9,810.5M353.0,793.8L353.0,793.3M353.2,775.4L353.2,773.2L353.3,770.7L353.3,768.2L353.4,765.7L353.4,763.2L353.5,760.7L353.5,758.3L353.6,755.8L353.6,754.4M354.1,737.1L354.1,736.6M354.8,719.3L354.9,717.0L355.0,714.5L355.1,712.0L355.2,709.5L355.4,707.0L355.5,704.5L355.6,702.0L355.8,699.5L355.8,698.6M357.0,681.3L357.1,680.8M358.6,663.4L358.8,661.1L359.0,659.1L359.2,657.1L359.4,655.1L359.6,653.1L359.8,651.1L360.1,649.1L360.3,647.1L360.5,645.1L360.8,643.1L360.8,642.9M363.0,625.8L363.1,625.3M365.6,608.8L366.0,606.5L366.3,604.5L366.7,602.5L367.0,600.5L367.4,598.5L367.8,596.5L368.1,594.5L368.5,592.6L368.9,590.6L369.3,588.6L369.3,588.5M373.2,571.0L373.3,570.5M377.6,554.1L378.2,552.2L378.7,550.3L379.3,548.3L379.9,546.4L380.5,544.5L381.1,542.6L381.7,540.7L382.3,538.8L382.9,536.9L383.5,535.1M389.2,519.8L389.4,519.3M395.5,505.2L396.4,503.2L397.5,501.0L398.6,498.8L399.7,496.6L400.8,494.4L402.0,492.2L403.1,490.0L404.2,488.1M412.8,473.8L413.1,473.4M421.9,460.9L423.2,459.3L424.7,457.3L426.3,455.4L427.9,453.5L429.4,451.6L431.1,449.8L432.7,447.9L433.5,447.1M444.0,436.4L444.3,436.0M455.9,425.7L457.6,424.3L459.2,423.1L460.7,421.8L462.3,420.6L463.9,419.4L465.5,418.2L467.1,417.0L468.8,415.8L470.4,414.7M482.8,406.4L483.2,406.2M496.3,398.6L498.4,397.5L500.2,396.6L502.0,395.7L503.8,394.8L505.6,393.9L507.4,393.0L509.3,392.2L511.1,391.3L511.2,391.3M523.0,386.3L523.4,386.1M536.1,381.5L538.4,380.8L540.3,380.2L542.2,379.6L544.2,379.0L546.1,378.4L548.0,377.9L550.0,377.4L550.7,377.2M562.5,374.4L562.8,374.3M575.9,371.9L578.3,371.5L580.8,371.2L583.2,370.8L585.7,370.5L588.2,370.2L590.6,369.9L591.9,369.8M605.7,368.3L606.1,368.3M619.3,367.1L621.8,366.9L624.2,366.7L626.7,366.4L629.2,366.2L631.7,366.0L634.1,365.7L634.5,365.7M646.8,364.4L647.2,364.4M660.7,363.0L662.8,362.8L665.3,362.5L667.8,362.3L670.3,362.0L672.8,361.8L675.2,361.5L677.7,361.3L677.8,361.3M692.9,359.8L693.3,359.8M707.6,358.6L709.6,358.4L711.6,358.3L713.6,358.2L715.6,358.0L717.6,357.9L719.6,357.7L721.6,357.6L723.3,357.5M735.4,356.8L735.8,356.8M749.4,356.2L751.6,356.1L753.6,356.0L755.6,356.0L757.6,355.9L759.6,355.9L761.6,355.8L763.6,355.8L765.6,355.7L765.8,355.7M779.4,355.5L779.8,355.5M793.2,355.5L795.7,355.6L797.7,355.6L799.7,355.6L801.7,355.6L804.2,355.7L806.7,355.8L809.2,355.8L809.3,355.8M822.9,356.3L823.3,356.3M835.7,357.0L838.1,357.1L840.5,357.3L843.0,357.4L845.5,357.6L848.0,357.8L850.5,358.0L850.7,358.0M863.6,359.1L864.0,359.2M878.7,360.7L881.1,360.9L883.6,361.2L886.0,361.5L888.5,361.8L891.0,362.1L893.4,362.4L895.4,362.6M908.5,364.3L908.9,364.4M922.4,366.2L924.5,366.5L927.0,366.9L929.4,367.2L931.9,367.6L934.4,368.0L936.8,368.3L938.3,368.5M951.5,370.5L951.9,370.6M965.1,372.6L967.6,373.0L969.6,373.3L971.5,373.6L973.5,373.9L975.5,374.2L977.5,374.5L979.5,374.8L981.2,375.1M994.8,377.2L995.2,377.3M1008.2,379.4L1010.4,379.8L1012.4,380.2L1014.4,380.5L1016.4,380.9L1018.4,381.2L1020.4,381.6L1022.4,382.0L1023.1,382.1M1035.0,384.6L1035.4,384.6M1048.4,387.7L1050.8,388.3L1052.8,388.8L1055.2,389.4L1057.6,390.0L1060.0,390.7L1062.4,391.4L1063.8,391.8M1076.4,395.8L1076.8,395.9M1089.8,400.7L1092.0,401.6L1094.2,402.5L1096.5,403.5L1098.8,404.5L1101.0,405.5L1103.3,406.6L1105.2,407.5M1118.0,414.3L1118.4,414.5M1130.4,422.0L1132.1,423.2L1134.2,424.6L1136.2,426.1L1138.2,427.6L1140.2,429.1L1142.1,430.7L1143.8,432.1M1154.3,441.4L1154.6,441.7M1164.6,452.8L1166.0,454.5L1167.5,456.5L1169.0,458.5L1170.5,460.5L1171.9,462.5L1173.2,464.6L1174.5,466.7L1175.0,467.5M1182.2,481.0L1182.4,481.4M1188.7,498.2L1189.4,500.5L1189.9,502.4L1190.5,504.4L1190.9,506.3L1191.4,508.3L1191.8,510.3L1192.2,512.3L1192.6,514.3L1192.9,516.3L1193.3,518.4L1193.3,518.7M1194.7,535.6L1194.8,536.2" fill="none" stroke="#000080" stroke-width="8.6" stroke-linecap="round" stroke-linejoin="round"/>
<g fill="#000">
<rect x="241" y="52" width="1353" height="4"/>
<rect x="241" y="1042" width="1353" height="4"/>
<rect x="241" y="52" width="5" height="994"/>
<rect x="1589" y="52" width="5" height="994"/>
</g>
<path d="M244,985.5H263.5M244,927.3H253.5M244,869.1H263.5M244,810.8H253.5M244,752.6H263.5M244,694.4H253.5M244,636.2H263.5M244,578.0H253.5M244,519.7H263.5M244,461.5H253.5M244,403.3H263.5M244,345.1H253.5M244,286.9H263.5M244,228.6H253.5M244,170.4H263.5M244,112.2H253.5M347.0,1044V1024.5M450.6,1044V1034.5M554.3,1044V1024.5M658.0,1044V1034.5M761.6,1044V1024.5M865.2,1044V1034.5M968.9,1044V1024.5M1072.6,1044V1034.5M1176.2,1044V1024.5M1279.8,1044V1034.5M1383.5,1044V1024.5M1487.2,1044V1034.5" stroke="#000" stroke-width="5" stroke-linecap="round" fill="none"/>
<g filter="url(#bin)">
<g font-size="64.5" text-anchor="end">
<text transform="translate(222,1004.5) scale(0.97,1)">0</text>
<text transform="translate(222,888.1) scale(0.97,1)">50</text>
<text transform="translate(222,771.6) scale(0.97,1)">100</text>
<text transform="translate(222,655.2) scale(0.97,1)">150</text>
<text transform="translate(222,538.7) scale(0.97,1)">200</text>
<text transform="translate(222,422.3) scale(0.97,1)">250</text>
<text transform="translate(222,305.9) scale(0.97,1)">300</text>
<text transform="translate(222,189.4) scale(0.97,1)">350</text>
<text transform="translate(222,73.0) scale(0.97,1)">400</text>
</g>
<g font-size="64.5" text-anchor="middle">
<text transform="translate(347.0,1115.5) scale(0.97,1)">0.0</text>
<text transform="translate(554.3,1115.5) scale(0.97,1)">0.1</text>
<text transform="translate(761.6,1115.5) scale(0.97,1)">0.2</text>
<text transform="translate(968.9,1115.5) scale(0.97,1)">0.3</text>
<text transform="translate(1176.2,1115.5) scale(0.97,1)">0.4</text>
<text transform="translate(1383.5,1115.5) scale(0.97,1)">0.5</text>
<text transform="translate(1590.8,1115.5) scale(0.97,1)">0.6</text>
</g>
<text transform="translate(917.5,1204) scale(1,1.035)" font-size="72.5" text-anchor="middle">Strain</text>
<text transform="translate(80.5,529) rotate(-90)" font-size="72" text-anchor="middle">Stress / MPa</text>
</g>
<g stroke-width="8.6" stroke-linecap="round">
<line x1="571.3" y1="763.0" x2="690.2" y2="763.0" stroke="#000"/>
<line x1="1019.3" y1="763.6" x2="1048.3" y2="763.6" stroke="#f00"/>
<line x1="1090.2" y1="763.6" x2="1119.7" y2="763.6" stroke="#f00"/>
<line x1="571.3" y1="860.7" x2="608.4" y2="860.7" stroke="#00f"/>
<line x1="632.0" y1="860.7" x2="636.5" y2="860.7" stroke="#00f"/>
<line x1="660.7" y1="860.7" x2="689.7" y2="860.7" stroke="#00f"/>
<line x1="1022.0" y1="860.7" x2="1048.3" y2="860.7" stroke="#f0f"/>
<line x1="1071.9" y1="860.7" x2="1076.7" y2="860.7" stroke="#f0f"/>
<line x1="1100.6" y1="860.7" x2="1105.3" y2="860.7" stroke="#f0f"/>
<line x1="1129.2" y1="860.7" x2="1140.2" y2="860.7" stroke="#f0f"/>
<line x1="571.3" y1="958.0" x2="582.5" y2="958.0" stroke="#008000"/>
<line x1="604.3" y1="958.0" x2="615.2" y2="958.0" stroke="#008000"/>
<line x1="636.1" y1="958.0" x2="647.1" y2="958.0" stroke="#008000"/>
<line x1="668.3" y1="958.0" x2="679.3" y2="958.0" stroke="#008000"/>
<line x1="1017.9" y1="958.0" x2="1038.7" y2="958.0" stroke="#000080"/>
<line x1="1056.1" y1="958.0" x2="1056.4" y2="958.0" stroke="#000080"/>
<line x1="1073.8" y1="958.0" x2="1095.2" y2="958.0" stroke="#000080"/>
<line x1="1112.3" y1="958.0" x2="1112.7" y2="958.0" stroke="#000080"/>
<line x1="1130.3" y1="958.0" x2="1136.1" y2="958.0" stroke="#000080"/>
</g>
<g font-size="72" filter="url(#bin)">
<g transform="translate(0,782.0) scale(1,1.03) translate(0,-782.0)"><text x="710.0" y="782.0">0</text><text class="mu" transform="translate(765.8,783.0) scale(1.1,1)" font-size="65">&#956;</text><text x="810.9" y="782.0">m</text></g>
<g transform="translate(0,879.0) scale(1,1.03) translate(0,-879.0)"><text x="709.2" y="879.0">6.6</text><text class="mu" transform="translate(827.8,880.0) scale(1.1,1)" font-size="65">&#956;</text><text x="872.9" y="879.0">m</text></g>
<g transform="translate(0,976.3) scale(1,1.03) translate(0,-976.3)"><text x="711.8" y="976.3">10.4</text><text class="mu" transform="translate(867.4,977.3) scale(1.1,1)" font-size="65">&#956;</text><text x="912.8" y="976.3">m</text></g>
<g transform="translate(0,782.0) scale(1,1.03) translate(0,-782.0)"><text x="1158.0" y="782.0">4.8</text><text class="mu" transform="translate(1275.7,783.0) scale(1.1,1)" font-size="65">&#956;</text><text x="1319.9" y="782.0">m</text></g>
<g transform="translate(0,879.0) scale(1,1.03) translate(0,-879.0)"><text x="1161.0" y="879.0">8.7</text><text class="mu" transform="translate(1277.9,880.0) scale(1.1,1)" font-size="65">&#956;</text><text x="1322.7" y="879.0">m</text></g>
<g transform="translate(0,976.3) scale(1,1.03) translate(0,-976.3)"><text x="1159.5" y="976.3">13.9</text><text class="mu" transform="translate(1314.9,977.3) scale(1.1,1)" font-size="65">&#956;</text><text x="1358.9" y="976.3">m</text></g>
</g>
<g fill="#fff"><rect x="123" y="649" width="10" height="6"/><rect x="139" y="649" width="10" height="6"/><rect x="123" y="766" width="10" height="6"/><rect x="139" y="766" width="10" height="6"/><rect x="568" y="1110" width="11" height="6"/><rect x="584" y="1110" width="11" height="6"/><rect x="717" y="970" width="13" height="6"/><rect x="736" y="970" width="12" height="6"/><rect x="1165" y="970" width="13" height="6"/><rect x="1184" y="970" width="12" height="6"/></g>
</svg></body></html>
